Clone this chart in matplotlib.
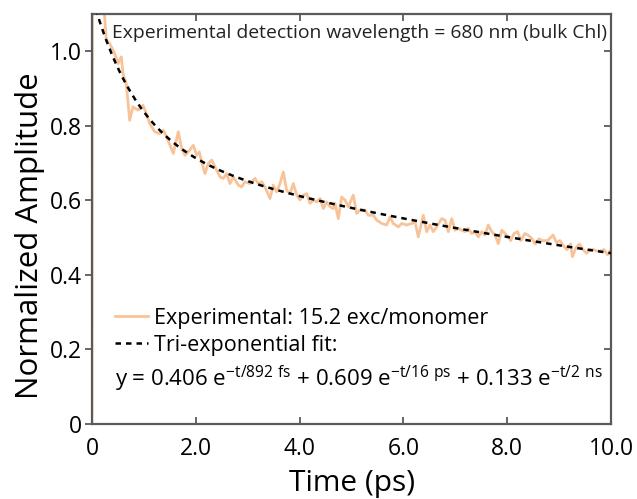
import numpy as np
import matplotlib
matplotlib.use("Agg")
import matplotlib.pyplot as plt
from matplotlib.lines import Line2D

plt.rcParams['font.family'] = ['Open Sans', 'DejaVu Sans']
plt.rcParams['mathtext.fontset'] = 'custom'
plt.rcParams['mathtext.rm'] = 'Open Sans'

# Experimental trace (time in ps, normalized amplitude)
exp_time = [0.0, 0.01, 0.23, 0.276, 0.341, 0.437, 0.501, 0.565, 0.597, 0.661, 0.726, 0.790,
            0.886, 0.983, 1.046, 1.112, 1.208, 1.304, 1.374, 1.439, 1.566, 1.663, 1.728,
            1.792, 1.855, 1.952, 2.017, 2.067, 2.114, 2.177, 2.241, 2.306, 2.370, 2.466,
            2.530, 2.595, 2.659, 2.723, 2.819, 2.884, 2.948, 3.044, 3.141, 3.204, 3.270,
            3.333, 3.430, 3.493, 3.559, 3.622, 3.686, 3.751, 3.815, 3.879, 3.944, 4.008,
            4.071, 4.137, 4.200, 4.264, 4.330, 4.393, 4.457, 4.522, 4.586, 4.649, 4.682,
            4.746, 4.811, 4.875, 4.938, 5.035, 5.100, 5.164, 5.260, 5.324, 5.420, 5.486,
            5.582, 5.678, 5.742, 5.805, 5.902, 5.967, 6.064, 6.160, 6.224, 6.287, 6.383,
            6.449, 6.513, 6.576, 6.642, 6.738, 6.802, 6.865, 6.931, 6.994, 7.058, 7.123,
            7.187, 7.250, 7.316, 7.380, 7.443, 7.509, 7.572, 7.636, 7.701, 7.765, 7.828,
            7.894, 7.958, 8.021, 8.066, 8.131, 8.200, 8.266, 8.337, 8.401, 8.478, 8.541,
            8.613, 8.678, 8.778, 8.882, 8.950, 9.017, 9.085, 9.152, 9.222, 9.256, 9.326,
            9.391, 9.461, 9.528, 9.595, 9.663, 9.730, 9.800, 9.865, 9.934, 10.0]
exp_amp = [0.0, 1.30, 1.12, 1.029, 1.021, 0.994, 0.967, 0.985, 0.940, 0.913, 0.815, 0.851,
           0.842, 0.855, 0.833, 0.806, 0.784, 0.779, 0.788, 0.770, 0.726, 0.784, 0.739,
           0.721, 0.730, 0.748, 0.721, 0.730, 0.703, 0.672, 0.699, 0.708, 0.690, 0.663,
           0.659, 0.672, 0.645, 0.663, 0.641, 0.636, 0.650, 0.645, 0.659, 0.645, 0.650,
           0.636, 0.605, 0.641, 0.623, 0.645, 0.676, 0.627, 0.618, 0.645, 0.614, 0.601,
           0.614, 0.618, 0.592, 0.601, 0.596, 0.605, 0.578, 0.596, 0.583, 0.578, 0.592,
           0.551, 0.609, 0.601, 0.583, 0.614, 0.565, 0.574, 0.574, 0.560, 0.560, 0.547,
           0.538, 0.534, 0.556, 0.538, 0.529, 0.538, 0.534, 0.538, 0.542, 0.502, 0.560,
           0.516, 0.534, 0.516, 0.529, 0.551, 0.547, 0.516, 0.551, 0.520, 0.525, 0.520,
           0.516, 0.525, 0.511, 0.516, 0.502, 0.516, 0.507, 0.534, 0.516, 0.507, 0.484,
           0.520, 0.511, 0.502, 0.492, 0.511, 0.516, 0.492, 0.511, 0.507, 0.497, 0.483,
           0.497, 0.492, 0.492, 0.507, 0.487, 0.492, 0.478, 0.468, 0.483, 0.449, 0.473,
           0.483, 0.468, 0.458, 0.468, 0.468, 0.464, 0.464, 0.468, 0.454, 0.468]

# Tri-exponential fit parameters as stated on the chart
fit_amplitudes = [0.406, 0.609, 0.133]
fit_lifetimes_ps = [0.892, 16.0, 2000.0]

x_ticks = [0, 2, 4, 6, 8, 10]
x_tick_labels = ["0", "2.0", "4.0", "6.0", "8.0", "10.0"]
y_ticks = [0, 0.2, 0.4, 0.6, 0.8, 1.0]
y_tick_labels = ["0", "0.2", "0.4", "0.6", "0.8", "1.0"]

fit_t = np.linspace(0, 10, 400)
fit_y = sum(a * np.exp(-fit_t / tau) for a, tau in zip(fit_amplitudes, fit_lifetimes_ps))

fig = plt.figure(figsize=(6.37, 4.99), dpi=100)
ax = fig.add_axes([0.1444, 0.1503, 0.8148, 0.8216])

orange = '#F8C398'
ax.plot(exp_time, exp_amp, color=orange, lw=2.0, zorder=2)
ax.plot(fit_t, fit_y, color='black', lw=1.8, linestyle=(0, (2.2, 2.0)), zorder=3)

ax.set_xlim(0, 10)
ax.set_ylim(0, 1.1)
ax.set_xticks(x_ticks)
ax.set_xticklabels(x_tick_labels)
ax.set_yticks(y_ticks)
ax.set_yticklabels(y_tick_labels)

spine_col = '#5a5a5a'
for s in ax.spines.values():
    s.set_color(spine_col)
    s.set_linewidth(1.6)

ax.tick_params(axis='x', direction='in', top=True, length=5, width=1.3, color=spine_col,
               labelsize=16.5, pad=9)
ax.tick_params(axis='y', direction='out', right=False, length=5, width=1.3, color=spine_col,
               labelsize=16.5, pad=2)
# right-side inward ticks
ax2 = ax.secondary_yaxis('right')
ax2.set_yticks(y_ticks)
ax2.tick_params(direction='in', length=5, width=1.3, color=spine_col, labelright=False)
ax2.spines['right'].set_visible(False)

ax.set_xlabel("Time (ps)", fontsize=21.5)
ax.xaxis.set_label_coords(0.502, -0.145, transform=ax.transAxes)
ax.xaxis.label.set_va('center')
ax.set_ylabel("Normalized Amplitude", fontsize=22.5)
ax.yaxis.set_label_coords(-0.119, 0.459, transform=ax.transAxes)
ax.yaxis.label.set_va('center')

ax.text(0.038, 0.975, "Experimental detection wavelength = 680 nm (bulk Chl)",
        transform=ax.transAxes, ha='left', va='top', fontsize=13.9, color='#222222')

handles = [Line2D([], [], color=orange, lw=2.0),
           Line2D([], [], color='black', lw=1.8, linestyle=(0, (2.2, 2.0)))]
labels = ["Experimental: 15.2 exc/monomer", "Tri-exponential fit:"]
leg = ax.legend(handles, labels, loc='upper left', bbox_to_anchor=(0.027, 0.305),
                frameon=False, fontsize=15.5, handlelength=1.55, handletextpad=0.3,
                labelspacing=0.3, borderaxespad=0)

eq = (r"y = 0.406 e$^{\mathregular{-t/892\ fs}}$ + 0.609 e$^{\mathregular{-t/16\ ps}}$"
      r" + 0.133 e$^{\mathregular{-t/2\ ns}}$")
ax.text(0.045, 0.11, eq, transform=ax.transAxes, ha='left', va='center', fontsize=16)

fig.savefig("out.png", dpi=100)
